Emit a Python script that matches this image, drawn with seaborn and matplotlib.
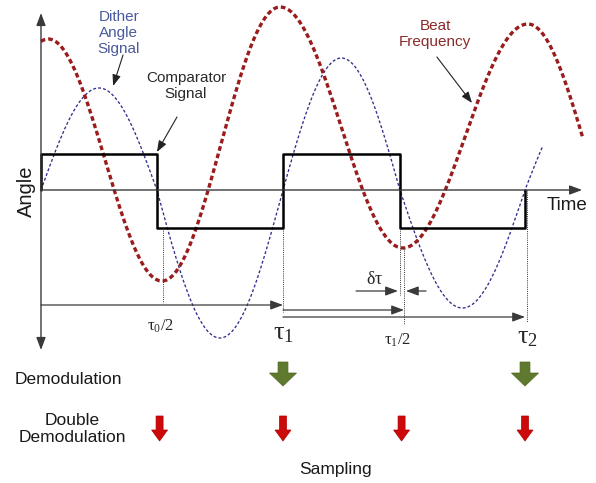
import numpy as np
import pandas as pd
import matplotlib
matplotlib.use("Agg")
import matplotlib.pyplot as plt
import seaborn as sns

# ---- signal description (time in units of tau1, angle in arbitrary units) ----
# Dither angle signal: zero crossings and the amplitude of each half wave
dither_zero_times = [0.0, 0.479, 1.0, 1.483, 2.0, 2.48]
dither_half_amps = [1.02, -1.48, 1.32, -1.18, 0.95]
dither_end_time = 2.074

# Beat frequency: successive extrema (time, value)
beat_ext_times = [0.03, 0.50, 0.988, 1.495, 2.012, 2.50]
beat_ext_values = [1.51, -0.91, 1.83, -0.58, 1.66, -0.90]
beat_end_time = 2.24

# Comparator output levels
comparator_high = 0.36
comparator_low = -0.38

# Sampling instants
demod_times = [1.0, 2.0]
double_demod_times = [0.49, 1.0, 1.49, 2.0]

sns.set_theme(style="white")
plt.rcParams["font.family"] = ["Liberation Sans", "DejaVu Sans"]
plt.rcParams["mathtext.fontset"] = "custom"
plt.rcParams["mathtext.rm"] = "Liberation Serif"
plt.rcParams["mathtext.it"] = "Liberation Serif:italic"

fig = plt.figure(figsize=(5.96, 4.83), dpi=100)
ax = fig.add_axes([0, 0, 1, 1])
ax.set_xlim(-41 / 242, 555 / 242)
ax.set_ylim(-2.93, 1.90)
ax.axis("off")

AXIS_C = "#3a3a3a"


def arrow(x0, y0, x1, y1, lw=0.9, color=AXIS_C, scale=10, style="-|>"):
    ax.annotate("", xy=(x1, y1), xytext=(x0, y0),
                arrowprops=dict(arrowstyle=f"{style},head_length=0.75,head_width=0.28",
                                lw=lw, color=color, shrinkA=0, shrinkB=0,
                                mutation_scale=scale))


# ---- coordinate axes ----
arrow(0, -1.60, 0, 1.77, style="<|-|>", lw=1.0)
arrow(0, 0, 2.236, 0, lw=1.0)

# ---- dither angle signal (half-sine lobes between zero crossings) ----
dt, dy = [], []
for k, amp in enumerate(dither_half_amps):
    z0, z1 = dither_zero_times[k], dither_zero_times[k + 1]
    tt = np.linspace(z0, min(z1, dither_end_time), 80)
    dt.extend(tt)
    dy.extend(amp * np.sin(np.pi * (tt - z0) / (z1 - z0)))
    if z1 >= dither_end_time:
        break
dither = pd.DataFrame({"t": dt, "angle": dy})
sns.lineplot(data=dither, x="t", y="angle", sort=False, estimator=None, ax=ax,
             color="#2e2e8c", linewidth=0.95, linestyle=(0, (2.2, 1.6)))

# ---- beat frequency (cosine arcs between extrema) ----
bt = np.linspace(0, beat_end_time, 600)
idx = np.clip(np.searchsorted(beat_ext_times, bt) - 1, 0, len(beat_ext_times) - 2)
ta = np.array(beat_ext_times)[idx]
tb = np.array(beat_ext_times)[idx + 1]
va = np.array(beat_ext_values)[idx]
vb = np.array(beat_ext_values)[idx + 1]
by = (va + vb) / 2 + (va - vb) / 2 * np.cos(np.pi * (bt - ta) / (tb - ta))
beat = pd.DataFrame({"t": bt, "angle": by})
sns.lineplot(data=beat, x="t", y="angle", sort=False, estimator=None, ax=ax,
             color="#9a1c1c", linewidth=2.4, linestyle=(0, (1.4, 0.9)))

# ---- comparator square wave (switches at dither zero crossings) ----
sw = dither_zero_times[:5]
st, sv = [sw[0]], [0.0]
level = comparator_high
for k in range(len(sw) - 1):
    st += [sw[k], sw[k + 1]]
    sv += [level, level]
    level = comparator_low if level == comparator_high else comparator_high
st.append(sw[-1])
sv.append(0.0)
square = pd.DataFrame({"t": st, "angle": sv})
sns.lineplot(data=square, x="t", y="angle", sort=False, estimator=None, ax=ax,
             color="black", linewidth=1.8)

# ---- dotted timing guides ----
guides = [(0.504, comparator_low, -1.13), (1.0, comparator_low, -1.22),
          (1.483, comparator_low, -1.05), (1.50, -0.58, -1.35), (2.008, 0.0, -1.32)]
for x, y0, y1 in guides:
    ax.plot([x, x], [y0, y1], color="#333333", lw=0.7, ls=(0, (1, 1.2)))

# ---- interval arrows ----
arrow(0, -1.15, 1.0, -1.15)
arrow(1.0, -1.20, 1.50, -1.20)
arrow(1.0, -1.27, 2.0, -1.27)
arrow(1.302, -1.01, 1.475, -1.01)
arrow(1.591, -1.01, 1.508, -1.01)

# ---- annotations ----
ax.text(0.322, 1.57, "Dither\nAngle\nSignal", color="#4a5a9c", fontsize=11,
        ha="center", va="center", linespacing=1.15)
ax.text(0.599, 1.04, "Comparator\nSignal", color="#2a2a2a", fontsize=11,
        ha="center", va="center", linespacing=1.15)
ax.text(1.628, 1.56, "Beat\nFrequency", color="#8b2a2a", fontsize=11,
        ha="center", va="center", linespacing=1.15)
arrow(0.339, 1.35, 0.298, 1.04, lw=0.8, color="#222222", scale=9)
arrow(0.562, 0.73, 0.479, 0.38, lw=0.8, color="#222222", scale=9)
arrow(1.636, 1.33, 1.781, 0.87, lw=0.8, color="#222222", scale=9)

ax.text(-0.062, -0.01, "Angle", fontsize=14.5, rotation=90, ha="center",
        va="center", color="#1a1a1a")
ax.text(2.174, -0.15, "Time", fontsize=13.5, ha="center", va="center",
        color="#1a1a1a")

ax.text(0.492, -1.36, r"$\mathrm{\tau}_0/2$", fontsize=12, ha="center", va="center")
ax.text(1.004, -1.43, r"$\mathrm{\tau}_1$", fontsize=19, ha="center", va="center")
ax.text(1.475, -1.50, r"$\mathrm{\tau}_1/2$", fontsize=12, ha="center", va="center")
ax.text(2.012, -1.47, r"$\mathrm{\tau}_2$", fontsize=19, ha="center", va="center")
ax.text(1.38, -0.90, r"$\mathrm{\delta\tau}$", fontsize=13, ha="center", va="center")

ax.text(0.112, -1.90, "Demodulation", fontsize=12.5, ha="center", va="center",
        color="#1a1a1a")
ax.text(0.128, -2.39, "Double\nDemodulation", fontsize=12.5, ha="center",
        va="center", color="#1a1a1a", linespacing=1.1)
ax.text(1.215, -2.80, "Sampling", fontsize=12.5, ha="center", va="center",
        color="#1a1a1a")

# ---- sampling markers ----
for t in demod_times:
    ax.arrow(t, -1.72, 0, -0.24, width=0.041, head_width=0.112, head_length=0.13,
             length_includes_head=True, color="#5f7a2e", ec="#4f6a22", lw=0.5)
for t in double_demod_times:
    ax.arrow(t, -2.26, 0, -0.25, width=0.029, head_width=0.066, head_length=0.11,
             length_includes_head=True, color="#cc0a0a", ec="#b00000", lw=0.5)

fig.savefig("out.png", dpi=100)
